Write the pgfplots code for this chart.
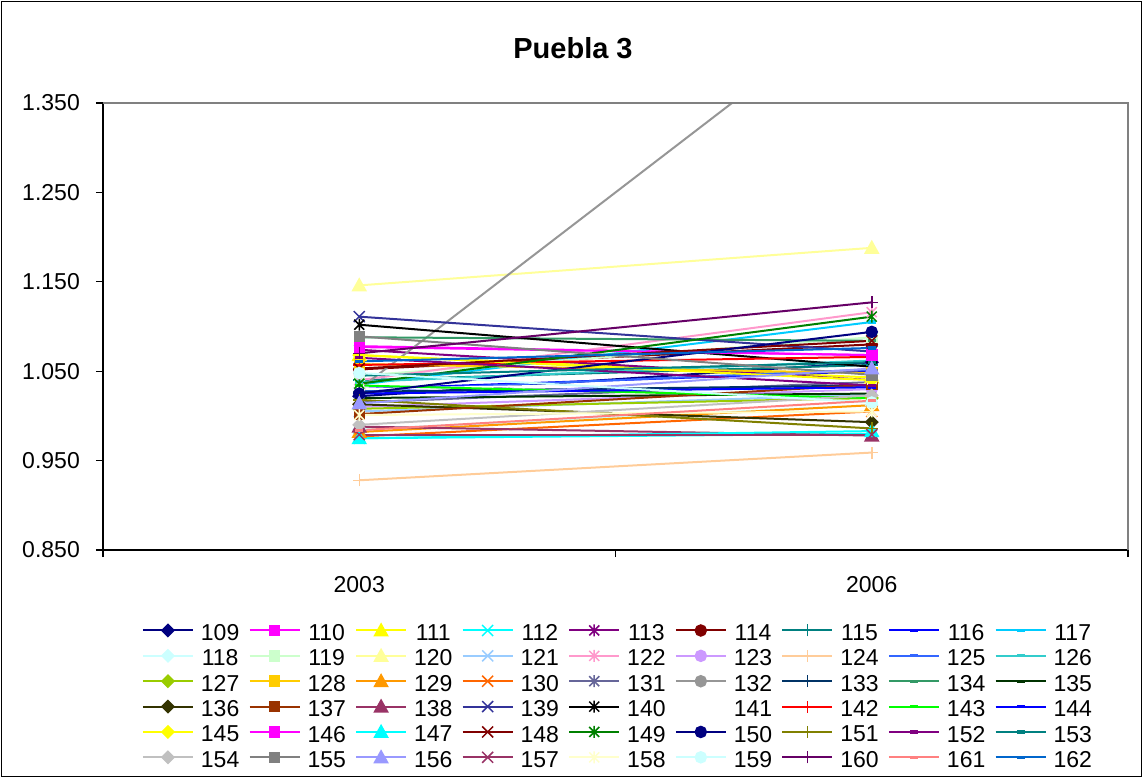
\documentclass[border=0pt]{standalone}
\usepackage{fontspec}
\setmainfont{Liberation Sans}
\usepackage{pgfplots}
\pgfplotsset{compat=1.18}
\newcommand{\fs}{\fontsize{23bp}{27bp}\selectfont}
\newcommand{\fst}{\fontsize{29bp}{34bp}\selectfont\bfseries}
% custom Excel-like markers
\pgfdeclareplotmark{xdia}{\pgfpathmoveto{\pgfqpoint{0pt}{\pgfplotmarksize}}\pgfpathlineto{\pgfqpoint{\pgfplotmarksize}{0pt}}\pgfpathlineto{\pgfqpoint{0pt}{-\pgfplotmarksize}}\pgfpathlineto{\pgfqpoint{-\pgfplotmarksize}{0pt}}\pgfpathclose\pgfusepathqfillstroke}
\pgfdeclareplotmark{xtri}{\pgfpathmoveto{\pgfqpoint{0pt}{\pgfplotmarksize}}\pgfpathlineto{\pgfqpoint{\pgfplotmarksize}{-.8\pgfplotmarksize}}\pgfpathlineto{\pgfqpoint{-\pgfplotmarksize}{-.8\pgfplotmarksize}}\pgfpathclose\pgfusepathqfillstroke}
\pgfdeclareplotmark{xcr}{\pgfpathmoveto{\pgfqpoint{-\pgfplotmarksize}{-\pgfplotmarksize}}\pgfpathlineto{\pgfqpoint{\pgfplotmarksize}{\pgfplotmarksize}}\pgfpathmoveto{\pgfqpoint{-\pgfplotmarksize}{\pgfplotmarksize}}\pgfpathlineto{\pgfqpoint{\pgfplotmarksize}{-\pgfplotmarksize}}\pgfusepathqstroke}
\pgfdeclareplotmark{xstar}{\pgfpathmoveto{\pgfqpoint{-\pgfplotmarksize}{-\pgfplotmarksize}}\pgfpathlineto{\pgfqpoint{\pgfplotmarksize}{\pgfplotmarksize}}\pgfpathmoveto{\pgfqpoint{-\pgfplotmarksize}{\pgfplotmarksize}}\pgfpathlineto{\pgfqpoint{\pgfplotmarksize}{-\pgfplotmarksize}}\pgfpathmoveto{\pgfqpoint{0pt}{-1.2\pgfplotmarksize}}\pgfpathlineto{\pgfqpoint{0pt}{1.2\pgfplotmarksize}}\pgfusepathqstroke}
\pgfdeclareplotmark{xplus}{\pgfpathmoveto{\pgfqpoint{-\pgfplotmarksize}{0pt}}\pgfpathlineto{\pgfqpoint{\pgfplotmarksize}{0pt}}\pgfpathmoveto{\pgfqpoint{0pt}{-\pgfplotmarksize}}\pgfpathlineto{\pgfqpoint{0pt}{\pgfplotmarksize}}\pgfusepathqstroke}
\pgfdeclareplotmark{xdash}{\pgfpathrectangle{\pgfqpoint{-\pgfplotmarksize}{-.4\pgfplotmarksize}}{\pgfqpoint{2\pgfplotmarksize}{.8\pgfplotmarksize}}\pgfusepathqfill}
\pgfplotsset{
  S/.style n args={3}{color=#1, mark=#2, mark size=#3, line width=2bp, mark options={solid, fill=#1, draw=#1, line width=1.5bp}},
  Dia/.style={S={#1}{xdia}{6bp}},
  Sq/.style={S={#1}{square*}{5bp}},
  Tri/.style={S={#1}{xtri}{6.5bp}},
  Cr/.style={S={#1}{xcr}{5.5bp}},
  St/.style={S={#1}{xstar}{5bp}},
  Ci/.style={S={#1}{*}{5.5bp}},
  Pl/.style={S={#1}{xplus}{6bp}},
  Da/.style={S={#1}{xdash}{4bp}},
}
\definecolor{c109}{HTML}{000080}
\definecolor{c110}{HTML}{FF00FF}
\definecolor{c111}{HTML}{FFFF00}
\definecolor{c112}{HTML}{00FFFF}
\definecolor{c113}{HTML}{800080}
\definecolor{c114}{HTML}{800000}
\definecolor{c115}{HTML}{008080}
\definecolor{c116}{HTML}{0000FF}
\definecolor{c117}{HTML}{00CCFF}
\definecolor{c118}{HTML}{CCFFFF}
\definecolor{c119}{HTML}{CCFFCC}
\definecolor{c120}{HTML}{FFFF99}
\definecolor{c121}{HTML}{99CCFF}
\definecolor{c122}{HTML}{FF99CC}
\definecolor{c123}{HTML}{CC99FF}
\definecolor{c124}{HTML}{FFCC99}
\definecolor{c125}{HTML}{3366FF}
\definecolor{c126}{HTML}{33CCCC}
\definecolor{c127}{HTML}{99CC00}
\definecolor{c128}{HTML}{FFCC00}
\definecolor{c129}{HTML}{FF9900}
\definecolor{c130}{HTML}{FF6600}
\definecolor{c131}{HTML}{666699}
\definecolor{c132}{HTML}{969696}
\definecolor{c133}{HTML}{003366}
\definecolor{c134}{HTML}{339966}
\definecolor{c135}{HTML}{003300}
\definecolor{c136}{HTML}{333300}
\definecolor{c137}{HTML}{993300}
\definecolor{c138}{HTML}{993366}
\definecolor{c139}{HTML}{333399}
\definecolor{c140}{HTML}{000000}
\definecolor{c141}{HTML}{FFFFFF}
\definecolor{c142}{HTML}{FF0000}
\definecolor{c143}{HTML}{00FF00}
\definecolor{c144}{HTML}{0000FF}
\definecolor{c145}{HTML}{FFFF00}
\definecolor{c146}{HTML}{FF00FF}
\definecolor{c147}{HTML}{00FFFF}
\definecolor{c148}{HTML}{800000}
\definecolor{c149}{HTML}{008000}
\definecolor{c150}{HTML}{000080}
\definecolor{c151}{HTML}{808000}
\definecolor{c152}{HTML}{800080}
\definecolor{c153}{HTML}{008080}
\definecolor{c154}{HTML}{C0C0C0}
\definecolor{c155}{HTML}{808080}
\definecolor{c156}{HTML}{9999FF}
\definecolor{c157}{HTML}{993366}
\definecolor{c158}{HTML}{FFFFCC}
\definecolor{c159}{HTML}{CCFFFF}
\definecolor{c160}{HTML}{660066}
\definecolor{c161}{HTML}{FF8080}
\definecolor{c162}{HTML}{0066CC}
\begin{document}
\begin{tikzpicture}[font=\fs]
\useasboundingbox (0,0) rectangle (1143bp,-778bp);
\draw[black, line width=1.3bp] (1.5bp,-1.5bp) rectangle (1141.5bp,-776.5bp);
\node[font=\fst, anchor=base] at (573bp,-58bp) {Puebla 3};
\begin{axis}[
  name=ax,
  at={(103bp,-550bp)}, anchor=south west,
  width=1025bp, height=447bp, scale only axis,
  xmin=-0.5, xmax=1.5, ymin=0.85, ymax=1.35,
  xtick={0,1}, xticklabels={2003,2006},
  minor xtick={-0.5,0.5,1.5},
  ytick={0.85,0.95,1.05,1.15,1.25,1.35},
  tick align=outside, xtick pos=bottom, ytick pos=left,
  major tick length=7bp, minor tick length=7bp,
  major x tick style={draw=none},
  minor x tick style={black, line width=1.3bp},
  major y tick style={black, line width=1.3bp},
  axis line style={black, line width=1.3bp},
  tick label style={font=\fs},
  yticklabel style={inner sep=0pt, xshift=-16bp, /pgf/number format/fixed, /pgf/number format/fixed zerofill, /pgf/number format/precision=3, /pgf/number format/assume math mode=true},
  xticklabel style={inner sep=0pt, yshift=-19bp},
  legend columns=9,
  legend style={at={(axis description cs:0.038,-0.1655)}, anchor=north west, draw=none, fill=none,
    inner sep=0pt, outer sep=0pt, font=\fs, row sep=7.3bp,
    nodes={inner sep=0pt},
    /tikz/every odd column/.append style={column sep=7bp},
    /tikz/every even column/.append style={column sep=9.2bp}},
  legend image code/.code={\draw[mark repeat=2, mark phase=2, #1] plot coordinates {(0bp,0.28em) (25bp,0.28em) (50bp,0.28em)};},
  legend entries={109,110,111,112,113,114,115,116,117,118,119,120,121,122,123,124,125,126,127,128,129,130,131,132,133,134,135,136,137,138,139,140,141,142,143,144,145,146,147,148,149,150,151,152,153,154,155,156,157,158,159,160,161,162},
]
\addplot[Dia=c109] coordinates {(0,1.022) (1,1.060)};
\addplot[Sq=c110] coordinates {(0,1.078) (1,1.068)};
\addplot[Tri=c111] coordinates {(0,1.068) (1,1.043)};
\addplot[Cr=c112] coordinates {(0,0.975) (1,0.980)};
\addplot[St=c113] coordinates {(0,1.074) (1,1.040)};
\addplot[Ci=c114] coordinates {(0,1.052) (1,1.080)};
\addplot[Pl=c115] coordinates {(0,1.040) (1,1.057)};
\addplot[Da=c116] coordinates {(0,1.030) (1,1.050)};
\addplot[Da=c117] coordinates {(0,1.035) (1,1.105)};
\addplot[Dia=c118] coordinates {(0,0.985) (1,1.012)};
\addplot[Sq=c119] coordinates {(0,1.045) (1,1.088)};
\addplot[Tri=c120] coordinates {(0,1.146) (1,1.188)};
\addplot[Cr=c121] coordinates {(0,1.005) (1,1.024)};
\addplot[St=c122] coordinates {(0,1.040) (1,1.116)};
\addplot[Ci=c123] coordinates {(0,1.010) (1,1.030)};
\addplot[Pl=c124] coordinates {(0,0.928) (1,0.959)};
\addplot[Da=c125] coordinates {(0,1.028) (1,1.052)};
\addplot[Da=c126] coordinates {(0,1.038) (1,1.062)};
\addplot[Dia=c127] coordinates {(0,1.008) (1,1.020)};
\addplot[Sq=c128] coordinates {(0,1.058) (1,1.048)};
\addplot[Tri=c129] coordinates {(0,0.982) (1,1.012)};
\addplot[Cr=c130] coordinates {(0,0.977) (1,1.005)};
\addplot[St=c131] coordinates {(0,1.015) (1,1.038)};
\addplot[Ci=c132] coordinates {(0,1.030) (1,1.470)};
\addplot[Pl=c133] coordinates {(0,1.027) (1,1.034)};
\addplot[Da=c134] coordinates {(0,1.088) (1,1.084)};
\addplot[Da=c135] coordinates {(0,1.020) (1,1.025)};
\addplot[Dia=c136] coordinates {(0,1.013) (1,0.993)};
\addplot[Sq=c137] coordinates {(0,1.002) (1,1.035)};
\addplot[Tri=c138] coordinates {(0,0.988) (1,0.978)};
\addplot[Cr=c139] coordinates {(0,1.111) (1,1.072)};
\addplot[St=c140] coordinates {(0,1.102) (1,1.055)};
\addplot[Ci=c141] coordinates {(0,1.030) (1,1.040)};
\addplot[Pl=c142] coordinates {(0,1.057) (1,1.066)};
\addplot[Da=c143] coordinates {(0,1.034) (1,1.020)};
\addplot[Da=c144] coordinates {(0,1.025) (1,1.032)};
\addplot[Dia=c145] coordinates {(0,1.068) (1,1.040)};
\addplot[Sq=c146] coordinates {(0,1.077) (1,1.068)};
\addplot[Tri=c147] coordinates {(0,0.975) (1,0.983)};
\addplot[Cr=c148] coordinates {(0,1.053) (1,1.084)};
\addplot[St=c149] coordinates {(0,1.036) (1,1.111)};
\addplot[Ci=c150] coordinates {(0,1.025) (1,1.094)};
\addplot[Pl=c151] coordinates {(0,1.018) (1,0.986)};
\addplot[Da=c152] coordinates {(0,1.065) (1,1.034)};
\addplot[Da=c153] coordinates {(0,1.045) (1,1.060)};
\addplot[Dia=c154] coordinates {(0,0.990) (1,1.023)};
\addplot[Sq=c155] coordinates {(0,1.089) (1,1.046)};
\addplot[Tri=c156] coordinates {(0,1.014) (1,1.053)};
\addplot[Cr=c157] coordinates {(0,0.979) (1,0.979)};
\addplot[St=c158] coordinates {(0,1.001) (1,1.005)};
\addplot[Ci=c159] coordinates {(0,1.048) (1,1.015)};
\addplot[Pl=c160] coordinates {(0,1.070) (1,1.127)};
\addplot[Da=c161] coordinates {(0,0.984) (1,1.017)};
\addplot[Da=c162] coordinates {(0,1.061) (1,1.076)};
\end{axis}
\draw[color=c155, line width=2bp] (ax.north west) -- (ax.north east) -- (ax.south east);
\end{tikzpicture}
\end{document}
